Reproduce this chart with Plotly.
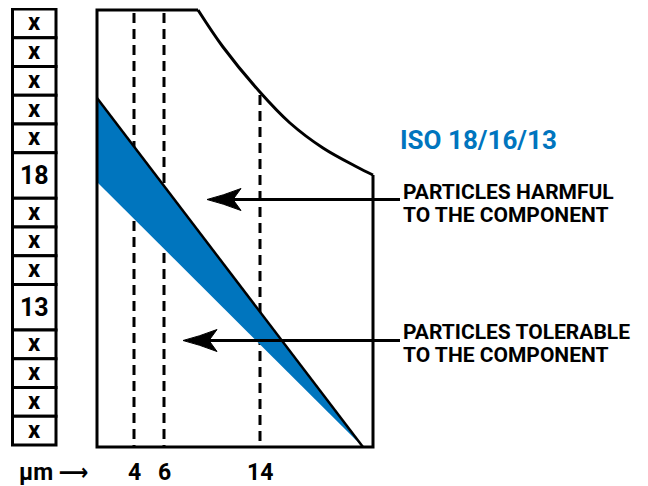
import plotly.graph_objects as go
import numpy as np

# ---------------- data ----------------
cell_labels = ["x", "x", "x", "x", "x", "18", "x", "x", "x", "13", "x", "x", "x", "x"]
highlighted_codes = ["18", "13"]
iso_code = "ISO 18/16/13"
size_ticks_um = [4, 6, 14]
unit_label = "µm ⟶"
harmful_label = ["PARTICLES HARMFUL", "TO THE COMPONENT"]
tolerable_label = ["PARTICLES TOLERABLE", "TO THE COMPONENT"]

# ---------------- layout constants (diagram coordinates = px) ----------------
W, H = 648, 486
OFF = 8                      # page body margin of the html page
BLUE = "#0075BE"
FONT = "Roboto, Liberation Sans Narrow, DejaVu Sans Condensed, sans-serif"

col_x0, col_x1 = 12.5, 56
col_top, col_bot = 9, 445
tall_factor = 1.58

box_left, box_top, box_bot, box_right = 97, 10, 447, 373
curve_x = [198, 223, 259, 290, 323, 357, 373]
curve_y = [10, 47, 91, 123, 148, 167, 175]
tick_px = [134, 164, 260]          # x position of 4, 6, 14 µm
band_top_y, band_low_y, band_tip_x = 98, 182, 363

arrows = [dict(y=199.5, tip=207, start=400, label=harmful_label, ty=(192, 215)),
          dict(y=340.5, tip=183, start=400, label=tolerable_label, ty=(332, 355))]

fig = go.Figure()
shapes = []
annos = []

# ---- left scale column ----
n_reg = sum(1 for c in cell_labels if c not in highlighted_codes)
n_tall = len(cell_labels) - n_reg
h = (col_bot - col_top) / (n_reg + tall_factor * n_tall)
y = col_top
for lab in cell_labels:
    hh = h * tall_factor if lab in highlighted_codes else h
    shapes.append(dict(type="rect", xref="x", yref="y", x0=col_x0, x1=col_x1, y0=y, y1=y + hh,
                       line=dict(color="black", width=3), fillcolor="white", layer="above"))
    big = lab in highlighted_codes
    annos.append(dict(x=(col_x0 + col_x1) / 2, y=y + hh / 2 + (0 if big else -1), text=lab, showarrow=False,
                      xanchor="center", yanchor="middle",
                      font=dict(family=FONT, size=25 if big else 24, color="black", weight=700)))
    y += hh

# ---- dashed size lines ----
for um, xp in zip(size_ticks_um, tick_px):
    y_start = box_top if xp <= curve_x[0] else float(np.interp(xp, curve_x, curve_y))
    shapes.append(dict(type="line", xref="x", yref="y", x0=xp, x1=xp, y0=y_start + 3, y1=box_bot,
                       line=dict(color="black", width=3, dash="10px,6px"), layer="below"))
    annos.append(dict(x=xp, y=472, text=str(um), showarrow=False, xanchor="center", yanchor="middle",
                      font=dict(family=FONT, size=23, color="black", weight=700)))

annos.append(dict(x=54, y=472, text=unit_label, showarrow=False, xanchor="center", yanchor="middle",
                  font=dict(family=FONT, size=23, color="black", weight=700)))

# ---- blue band ----
fig.add_trace(go.Scatter(x=[box_left, band_tip_x, box_left, box_left],
                         y=[band_top_y, box_bot, band_low_y, band_top_y],
                         fill="toself", fillcolor=BLUE, line=dict(width=0), mode="lines",
                         hoverinfo="skip", showlegend=False))
fig.add_trace(go.Scatter(x=[box_left, band_tip_x], y=[band_top_y, box_bot], mode="lines",
                         line=dict(color="black", width=2.5), hoverinfo="skip", showlegend=False))

# ---- outline ----
fig.add_trace(go.Scatter(x=[curve_x[0], box_left, box_left, box_right, box_right],
                         y=[box_top, box_top, box_bot, box_bot, curve_y[-1]], mode="lines",
                         line=dict(color="black", width=3), hoverinfo="skip", showlegend=False))
fig.add_trace(go.Scatter(x=curve_x, y=curve_y, mode="lines", line=dict(color="black", width=3, shape="spline"),
                         hoverinfo="skip", showlegend=False))

# ---- arrows ----
for a in arrows:
    fig.add_trace(go.Scatter(x=[a["start"], a["tip"] + 20], y=[a["y"], a["y"]], mode="lines",
                             line=dict(color="black", width=3), hoverinfo="skip", showlegend=False))
    t, yy = a["tip"], a["y"]
    path = (f"M {t},{yy} Q {t+16},{yy-4} {t+34},{yy-11} "
            f"L {t+26},{yy} L {t+34},{yy+11} Q {t+16},{yy+4} {t},{yy} Z")
    shapes.append(dict(type="path", xref="x", yref="y", path=path, fillcolor="black",
                       line=dict(color="black", width=1), layer="above"))
    for txt, ty in zip(a["label"], a["ty"]):
        annos.append(dict(x=401, y=ty, text=txt, showarrow=False, xanchor="left", yanchor="middle",
                          font=dict(family=FONT, size=21, color="black", weight=700)))

annos.append(dict(x=398, y=140, text=iso_code, showarrow=False, xanchor="left", yanchor="middle",
                  font=dict(family=FONT, size=26, color=BLUE, weight=700)))

fig.update_layout(
    width=W - OFF, height=H - OFF, margin=dict(l=0, r=0, t=0, b=0),
    paper_bgcolor="white", plot_bgcolor="white",
    xaxis=dict(range=[OFF, W], visible=False, fixedrange=True),
    yaxis=dict(range=[H, OFF], visible=False, fixedrange=True),
    shapes=shapes, annotations=annos, showlegend=False,
)
fig.write_html("out.html")
